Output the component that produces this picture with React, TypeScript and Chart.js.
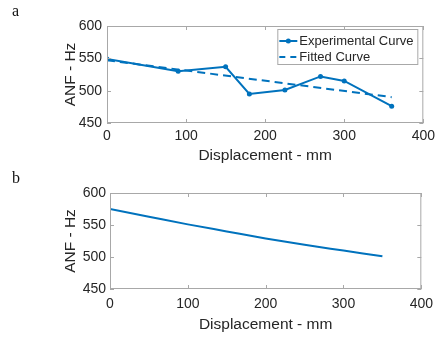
import React, { useEffect, useRef } from "react";
import { Chart, registerables } from "chart.js";

Chart.register(...registerables);

const expX = [0, 90, 150, 180, 225, 270, 300, 360];
const expY = [549, 530, 537, 495, 501, 522, 515, 476];
const fitX = [0, 360];
const fitY = [547, 490];
const curveX = [0, 50, 100, 150, 200, 250, 300, 350];
const curveY = [575, 563, 551, 540, 529, 519, 510, 501];
const xTicks = [0, 100, 200, 300, 400];
const yTicks = [450, 500, 550, 600];
const legendLabels = ["Experimental Curve", "Fitted Curve"];

const BLUE = "#0072BD";
const AXIS = "#a8a8a8";
const TEXT = "#262626";
const FONT = "'Liberation Sans', Arial, sans-serif";

const boxPlugin = {
  id: "boxTicks",
  afterDraw(chart: any) {
    const { ctx, chartArea: a, scales } = chart;
    ctx.save();
    ctx.strokeStyle = AXIS;
    ctx.lineWidth = 1;
    ctx.strokeRect(a.left + 0.5, a.top + 0.5, a.right - a.left - 1, a.bottom - a.top - 1);
    const L = 4;
    ctx.beginPath();
    xTicks.forEach((v) => {
      const px = Math.round(scales.x.getPixelForValue(v)) + 0.5;
      ctx.moveTo(px, a.bottom);
      ctx.lineTo(px, a.bottom - L);
      ctx.moveTo(px, a.top);
      ctx.lineTo(px, a.top + L);
    });
    yTicks.forEach((v) => {
      const py = Math.round(scales.y.getPixelForValue(v)) + 0.5;
      ctx.moveTo(a.left, py);
      ctx.lineTo(a.left + L, py);
      ctx.moveTo(a.right, py);
      ctx.lineTo(a.right - L, py);
    });
    ctx.stroke();
    ctx.restore();
  },
};

const legendPlugin = {
  id: "innerLegend",
  afterDraw(chart: any) {
    if (!chart.options.plugins.innerLegend?.show) return;
    const { ctx, chartArea: a } = chart;
    const w = 141;
    const h = 36;
    const x0 = a.right - 5 - w;
    const y0 = a.top + 3;
    ctx.save();
    ctx.fillStyle = "#fff";
    ctx.fillRect(x0, y0, w, h);
    ctx.strokeStyle = AXIS;
    ctx.lineWidth = 1;
    ctx.strokeRect(x0 + 0.5, y0 + 0.5, w - 1, h - 1);
    const r1 = y0 + 12;
    const r2 = y0 + 28;
    ctx.strokeStyle = BLUE;
    ctx.lineWidth = 2;
    ctx.beginPath();
    ctx.moveTo(x0 + 2, r1);
    ctx.lineTo(x0 + 20, r1);
    ctx.stroke();
    ctx.fillStyle = BLUE;
    ctx.beginPath();
    ctx.arc(x0 + 11, r1, 2.5, 0, Math.PI * 2);
    ctx.fill();
    ctx.setLineDash([6, 5]);
    ctx.beginPath();
    ctx.moveTo(x0 + 2, r2);
    ctx.lineTo(x0 + 20, r2);
    ctx.stroke();
    ctx.setLineDash([]);
    ctx.fillStyle = TEXT;
    ctx.font = `13px ${FONT}`;
    ctx.textBaseline = "middle";
    ctx.textAlign = "left";
    ctx.fillText(legendLabels[0], x0 + 22, r1);
    ctx.fillText(legendLabels[1], x0 + 22, r2);
    ctx.restore();
  },
};

function makeOptions(p: {
  padLeft: number;
  padTop: number;
  yWidth: number;
  xHeight: number;
  yTickPad: number;
  xTickPad: number;
  legend: boolean;
}) {
  return {
    animation: false,
    responsive: false,
    layout: { padding: { left: p.padLeft, top: p.padTop, right: 12, bottom: 0 } },
    plugins: {
      legend: { display: false },
      tooltip: { enabled: false },
      innerLegend: { show: p.legend },
    },
    scales: {
      x: {
        type: "linear",
        min: 0,
        max: 400,
        afterFit: (s: any) => {
          s.height = p.xHeight;
        },
        afterBuildTicks: (s: any) => {
          s.ticks = xTicks.map((v) => ({ value: v }));
        },
        grid: { display: false, drawTicks: false },
        border: { display: false },
        ticks: { padding: p.xTickPad, color: TEXT, font: { family: FONT, size: 14 }, maxRotation: 0 },
        title: {
          display: true,
          text: "Displacement - mm",
          color: TEXT,
          font: { family: FONT, size: 15.5 },
          padding: { top: 0, bottom: 3 },
        },
      },
      y: {
        type: "linear",
        min: 450,
        max: 600,
        afterFit: (s: any) => {
          s.width = p.yWidth;
        },
        afterBuildTicks: (s: any) => {
          s.ticks = yTicks.map((v) => ({ value: v }));
        },
        grid: { display: false, drawTicks: false },
        border: { display: false },
        ticks: { padding: p.yTickPad, color: TEXT, font: { family: FONT, size: 14 } },
        title: {
          display: true,
          text: "ANF - Hz",
          color: TEXT,
          font: { family: FONT, size: 15.5 },
          padding: 0,
        },
      },
    },
  } as any;
}

export default function App() {
  const topRef = useRef<HTMLCanvasElement>(null);
  const botRef = useRef<HTMLCanvasElement>(null);

  useEffect(() => {
    const c1 = new Chart(topRef.current!, {
      type: "line",
      data: {
        datasets: [
          {
            label: legendLabels[0],
            data: expX.map((x, i) => ({ x, y: expY[i] })),
            borderColor: BLUE,
            backgroundColor: BLUE,
            borderWidth: 2,
            pointRadius: 2.5,
            pointBackgroundColor: BLUE,
            pointBorderWidth: 0,
            tension: 0,
          },
          {
            label: legendLabels[1],
            data: fitX.map((x, i) => ({ x, y: fitY[i] })),
            borderColor: BLUE,
            borderWidth: 2,
            borderDash: [8, 5],
            pointRadius: 0,
            tension: 0,
          },
        ],
      },
      options: makeOptions({ padLeft: 61, padTop: 26, yWidth: 46, xHeight: 45, yTickPad: 5, xTickPad: 5, legend: true }),
      plugins: [boxPlugin, legendPlugin],
    });
    const c2 = new Chart(botRef.current!, {
      type: "line",
      data: {
        datasets: [
          {
            label: "ANF",
            data: curveX.map((x, i) => ({ x, y: curveY[i] })),
            borderColor: BLUE,
            borderWidth: 2,
            pointRadius: 0,
            cubicInterpolationMode: "monotone",
          },
        ],
      },
      options: makeOptions({ padLeft: 61, padTop: 25, yWidth: 49, xHeight: 48, yTickPad: 4, xTickPad: 7, legend: false }),
      plugins: [boxPlugin, legendPlugin],
    });
    return () => {
      c1.destroy();
      c2.destroy();
    };
  }, []);

  const labelStyle: React.CSSProperties = {
    position: "absolute",
    left: 12,
    fontFamily: "'Liberation Serif', 'Times New Roman', serif",
    fontSize: 16,
    lineHeight: "16px",
    color: "#111",
  };

  return (
    <div style={{ position: "fixed", left: 0, top: 0, width: 440, height: 337, background: "#fff" }}>
      <canvas ref={topRef} width={440} height={168} style={{ position: "absolute", left: 0, top: 0 }} />
      <canvas ref={botRef} width={440} height={169} style={{ position: "absolute", left: 0, top: 168 }} />
      <div style={{ ...labelStyle, top: 3 }}>a</div>
      <div style={{ ...labelStyle, top: 170 }}>b</div>
    </div>
  );
}
